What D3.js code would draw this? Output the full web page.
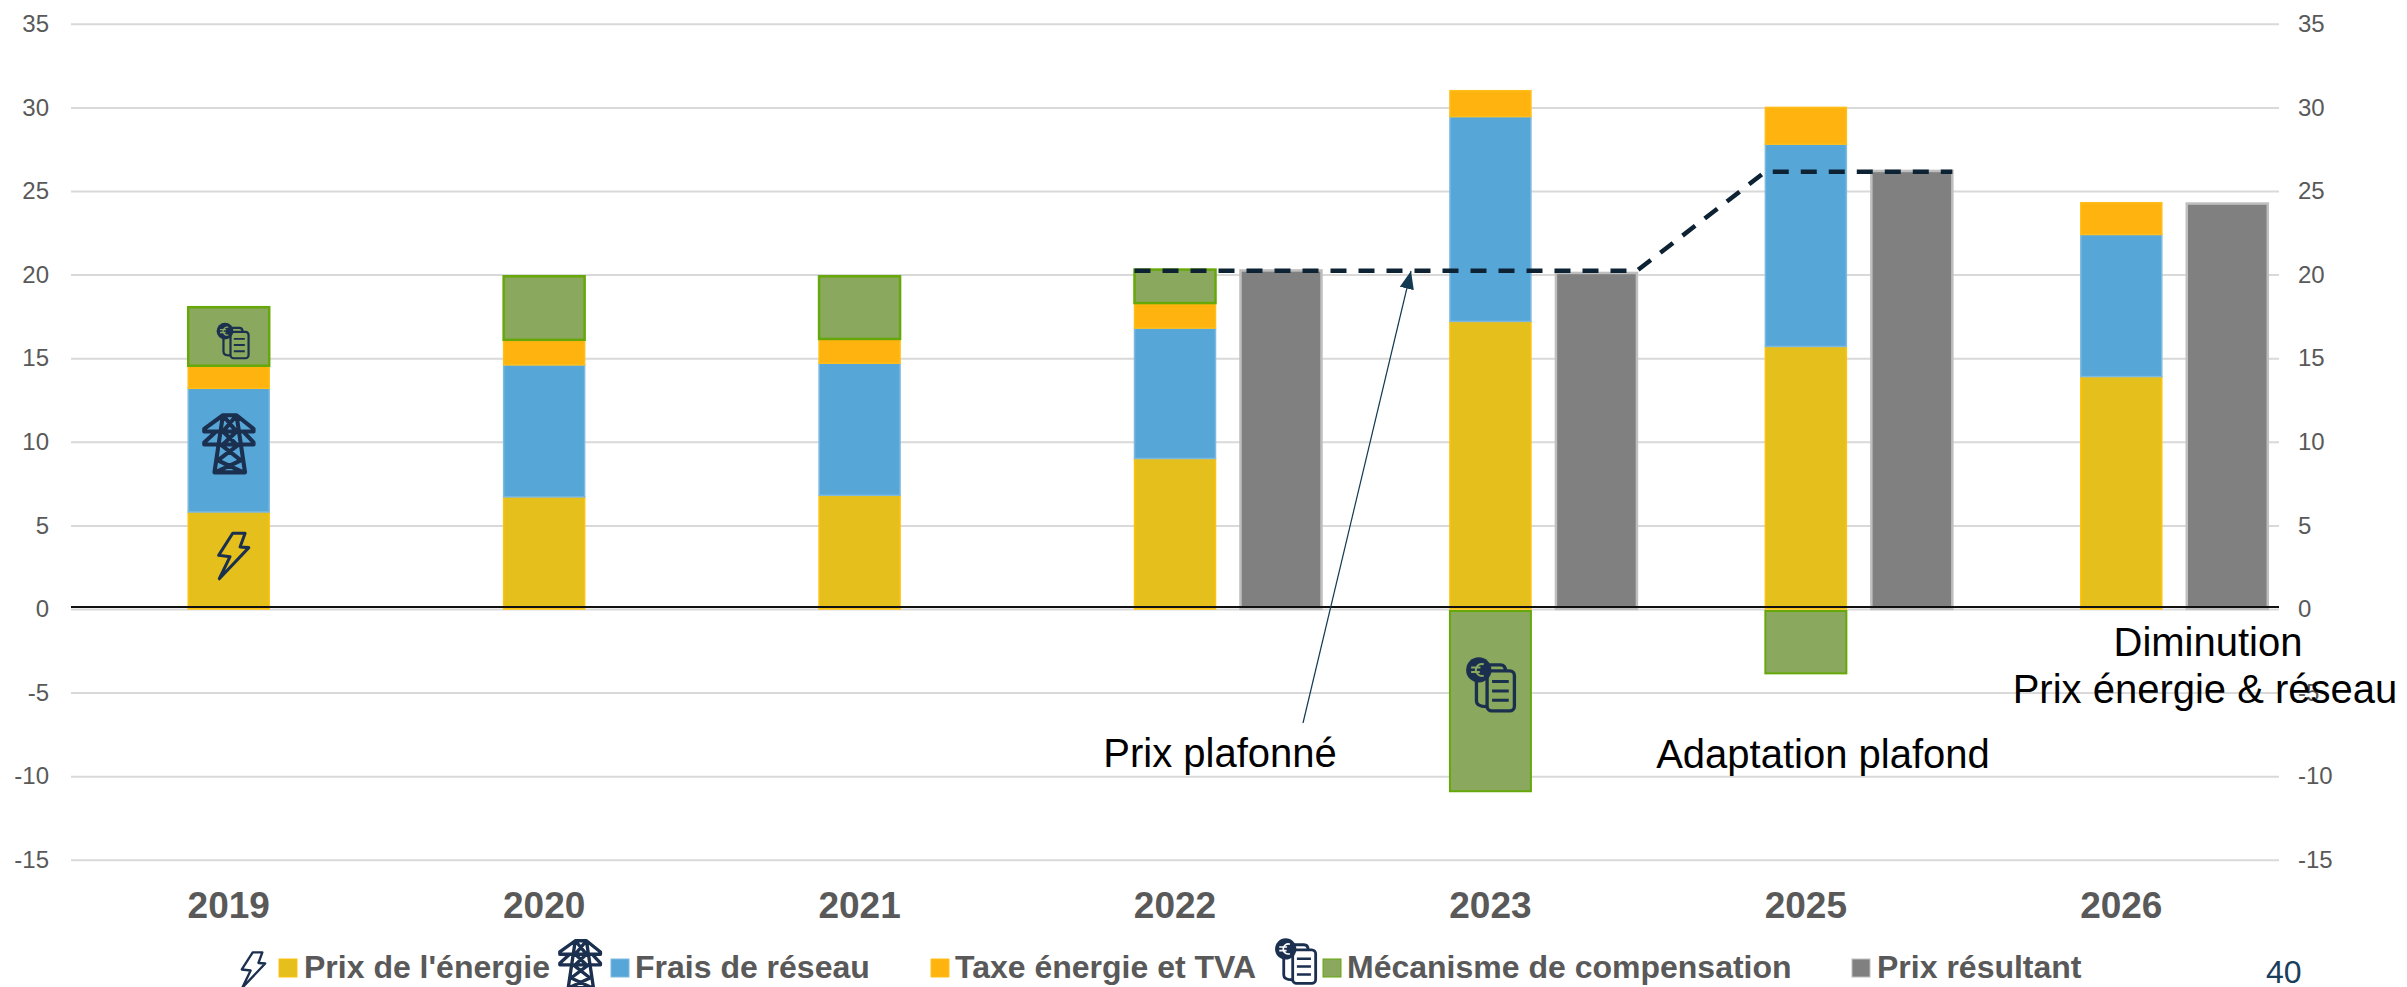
<!DOCTYPE html>
<html>
<head>
<meta charset="utf-8">
<title>Prix de l'électricité</title>
<style>
body { margin: 0; background: #fff; }
svg { display: block; }
text { font-family: "Liberation Sans", Arial, sans-serif; }
.tick text { fill: #595959; }
</style>
</head>
<body>
<script src="https://d3js.org/d3.v7.min.js"></script>
<script>
// donnees
var years = ["2019", "2020", "2021", "2022", "2023", "2025", "2026"];
var energie = [5.8, 6.7, 6.8, 9.0, 17.2, 15.7, 13.9];
var reseau = [7.4, 7.9, 7.9, 7.8, 12.25, 12.1, 8.5];
var taxe = [1.35, 1.5, 1.45, 1.5, 1.55, 2.2, 1.9];
var compensation = [3.5, 3.8, 3.75, 2.0, -10.9, -3.85, 0];
var resultant = [null, null, null, 20.25, 20.1, 26.2, 24.25];
var yTicks = [-15, -10, -5, 0, 5, 10, 15, 20, 25, 30, 35];
var plafond = [20.23, 20.23, 26.15, 26.15];

var legendNames = ["Prix de l'énergie", "Frais de réseau", "Taxe énergie et TVA", "Mécanisme de compensation", "Prix résultant"];
var colors = ["#E5BF1B", "#57A6D8", "#FFB30F", "#8AA85E", "#808080"];
var borders = ["#FFC20E", "#7DBAE0", "#FFBE1A", "#66A80A", "#BFBFBF"];
var navy = "#1B2F4F";

var width = 2407, height = 987;
var svg = d3.select("body").append("svg").attr("width", width).attr("height", height);

var x = d3.scaleBand().domain(years).range([71, 2279]);
var y = d3.scaleLinear().domain([-15, 35]).range([859.8, 23.8]);
var barW = 81, grayOffset = 106;

// grille + axes
var left = svg.append("g").attr("transform", "translate(71,0)")
  .call(d3.axisLeft(y).tickValues(yTicks).tickSize(-(2279 - 71)).tickPadding(22).tickFormat(function(d) { return String(d); }));
left.select(".domain").remove();
left.selectAll("line").attr("stroke", "#D9D9D9").attr("stroke-width", 2);
left.selectAll("text").style("font-size", "24px");

var right = svg.append("g").attr("transform", "translate(2279,0)")
  .call(d3.axisRight(y).tickValues(yTicks).tickSize(0).tickPadding(19).tickFormat(function(d) { return String(d); }));
right.select(".domain").remove();
right.selectAll("text").style("font-size", "24px");

var bottom = svg.append("g").attr("transform", "translate(0,860)")
  .call(d3.axisBottom(x).tickSize(0).tickPadding(32));
bottom.select(".domain").remove();
bottom.selectAll("text").style("font-size", "37px").style("font-weight", "bold");

// barres empilees
var series = [energie, reseau, taxe];
var bars = svg.append("g");
years.forEach(function(year, i) {
  var cx = x(year) + x.bandwidth() / 2;
  var base = 0;
  series.forEach(function(s, k) {
    bars.append("rect")
      .attr("x", cx - barW / 2)
      .attr("width", barW)
      .attr("y", y(base + s[i]))
      .attr("height", y(base) - y(base + s[i]))
      .attr("fill", colors[k])
      .attr("stroke", borders[k])
      .attr("stroke-width", 1.5);
    base += s[i];
  });
  var c = compensation[i];
  if (c > 0) {
    bars.append("rect")
      .attr("x", cx - barW / 2).attr("width", barW)
      .attr("y", y(base + c)).attr("height", y(base) - y(base + c))
      .attr("fill", colors[3]).attr("stroke", borders[3]).attr("stroke-width", 2.5);
  } else if (c < 0) {
    bars.append("rect")
      .attr("x", cx - barW / 2).attr("width", barW)
      .attr("y", y(0) + 2).attr("height", y(c) - y(0) - 2)
      .attr("fill", colors[3]).attr("stroke", borders[3]).attr("stroke-width", 2);
  }
  if (resultant[i] !== null) {
    bars.append("rect")
      .attr("x", cx + grayOffset - barW / 2).attr("width", barW)
      .attr("y", y(resultant[i])).attr("height", y(0) - y(resultant[i]))
      .attr("fill", colors[4]).attr("stroke", borders[4]).attr("stroke-width", 2.5);
  }
});

// ligne du zero
svg.append("line").attr("x1", 71).attr("x2", 2279)
  .attr("y1", y(0) - 2).attr("y2", y(0) - 2)
  .attr("stroke", "#111").attr("stroke-width", 2);

// plafond en pointilles
function center(year) { return x(year) + x.bandwidth() / 2; }
var plafondX = [
  center("2022") - barW / 2,
  center("2023") + grayOffset + barW / 2,
  center("2025") - barW / 2,
  center("2025") + grayOffset + barW / 2
];
var line = d3.line().x(function(d, i) { return plafondX[i]; }).y(function(d) { return y(d); });
svg.append("path").datum(plafond)
  .attr("d", line)
  .attr("fill", "none")
  .attr("stroke", "#0D2233")
  .attr("stroke-width", 4.5)
  .attr("stroke-dasharray", "16,12");

// fleche "Prix plafonne"
svg.append("defs").append("marker")
  .attr("id", "tip").attr("markerUnits", "userSpaceOnUse")
  .attr("viewBox", "0 0 20 20").attr("refX", 20).attr("refY", 10)
  .attr("markerWidth", 18).attr("markerHeight", 16).attr("orient", "auto")
  .attr("preserveAspectRatio", "none")
  .append("path").attr("d", "M0,1 L20,10 L0,19 Z").attr("fill", "#123A52");
svg.append("line").attr("x1", 1303).attr("y1", 723).attr("x2", 1411).attr("y2", 271)
  .attr("stroke", "#123A52").attr("stroke-width", 1.2).attr("marker-end", "url(#tip)");

// pictos
function bolt(cx, cy, s) {
  var g = svg.append("g").attr("transform", "translate(" + cx + "," + cy + ") scale(" + s + ") translate(-73,-95)");
  g.append("path")
    .attr("d", "M70,27 L107,27 L92,68 L118,70 L30,163 L62,97 L28,93 Z")
    .attr("fill", "none").attr("stroke", navy).attr("stroke-width", 9).attr("stroke-linejoin", "round");
}
function pylon(cx, cy, s) {
  var g = svg.append("g").attr("transform", "translate(" + cx + "," + cy + ") scale(" + s + ") translate(-102,-115)");
  g.append("path")
    .attr("d", "M85,32 H125 L175,72 V80 H30 V72 Z M65,80 L30,112 V118 H175 V112 L145,80 " +
      "M85,32 L60,200 H150 L125,32 M85,32 L125,80 M125,32 L85,80 M85,80 L125,118 M125,80 L85,118 " +
      "M78,118 L138,165 M132,118 L70,165 M70,165 L145,200 M138,165 L62,200")
    .attr("fill", "none").attr("stroke", navy).attr("stroke-width", 12).attr("stroke-linejoin", "round");
}
function doc(cx, cy, s, bg) {
  var g = svg.append("g").attr("transform", "translate(" + cx + "," + cy + ") scale(" + s + ") translate(-120,-118)");
  g.append("path").attr("d", "M105,60 H150 Q165,60 165,78 M78,110 V168 Q78,185 108,185")
    .attr("fill", "none").attr("stroke", navy).attr("stroke-width", 10);
  g.append("rect").attr("x", 110).attr("y", 78).attr("width", 82).attr("height", 120).attr("rx", 14)
    .attr("fill", bg).attr("stroke", navy).attr("stroke-width", 10);
  g.append("path").attr("d", "M125,110 H175 M125,138 H175 M125,166 H175")
    .attr("fill", "none").attr("stroke", navy).attr("stroke-width", 9);
  g.append("circle").attr("cx", 85).attr("cy", 75).attr("r", 38).attr("fill", navy);
  g.append("path").attr("d", "M100,58 A18,18 0 1 0 100,92 M62,68 H90 M62,81 H88")
    .attr("fill", "none").attr("stroke", bg).attr("stroke-width", 6);
}
var iconX = center("2019");
bolt(iconX + 5, y(3.17), 0.335);
pylon(iconX, y(9.9), 0.34);
doc(iconX + 4, y(16.05), 0.22, colors[3]);
doc(center("2023"), y(-4.5), 0.333, colors[3]);

// annotations
var notes = ["Prix plafonné", "Adaptation plafond", "Diminution", "Prix énergie & réseau"];
var notesX = [1220, 1823, 2208, 2205];
var notesY = [767, 768, 656, 703];
svg.append("g").selectAll("text").data(notes).enter().append("text")
  .attr("x", function(d, i) { return notesX[i]; })
  .attr("y", function(d, i) { return notesY[i]; })
  .attr("text-anchor", "middle")
  .style("font-size", "40px")
  .attr("fill", "#000")
  .text(function(d) { return d; });

// legende
var swatchX = [279, 611, 931, 1323, 1852];
var legendTextX = [304, 635, 955, 1347, 1877];
var legend = svg.append("g");
legendNames.forEach(function(name, i) {
  legend.append("rect").attr("x", swatchX[i]).attr("y", 959).attr("width", 18).attr("height", 18)
    .attr("fill", colors[i]).attr("stroke", borders[i]).attr("stroke-width", 1);
  legend.append("text").attr("x", legendTextX[i]).attr("y", 978)
    .style("font-size", "32px").style("font-weight", "bold").attr("fill", "#595959").text(name);
});
bolt(253.5, 970, 0.26);
pylon(580, 964, 0.28);
doc(1295.5, 961, 0.28, "#fff");

// numero de page
svg.append("text").attr("x", 2266).attr("y", 983).style("font-size", "32px").attr("fill", "#1A3E5C").text("40");
</script>
</body>
</html>
